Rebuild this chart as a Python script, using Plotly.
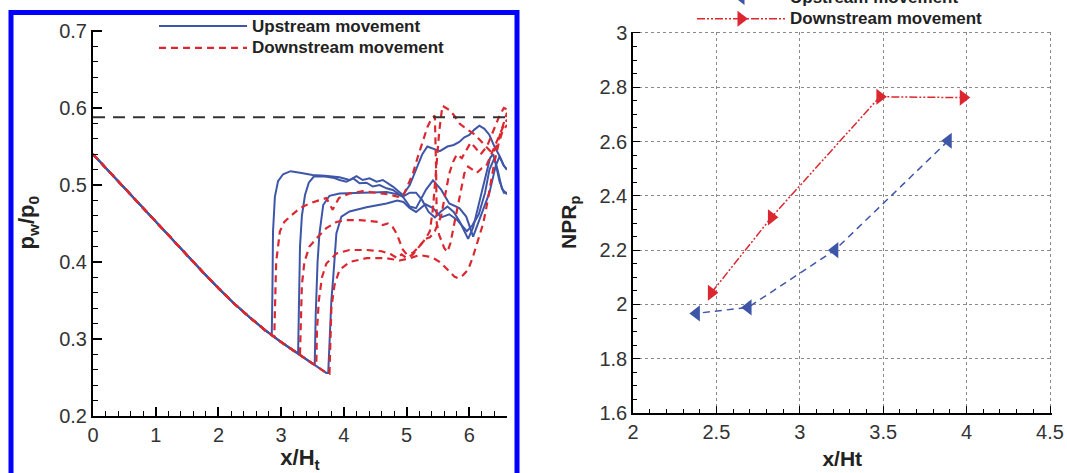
import plotly.graph_objects as go

W, H = 1067, 473

# ---------------- left panel: wall pressure distributions ----------------
BASE_X = [0.0, 0.25, 0.5, 0.75, 1.0, 1.25, 1.5, 1.75, 2.0, 2.25, 2.5, 2.75, 3.0, 3.25, 3.5, 3.72]
BASE_Y = [0.540, 0.518, 0.496, 0.474, 0.453, 0.431, 0.409, 0.387, 0.366, 0.346, 0.328, 0.311, 0.296, 0.282, 0.268, 0.256]

# upstream movement (solid blue), part after leaving the common expansion curve
B1_X = [2.85, 2.86, 2.87, 2.90, 2.95, 3.03, 3.15, 3.30, 3.50, 3.70, 3.85, 3.93, 4.09, 4.20, 4.30, 4.41, 4.52, 4.62, 4.78, 4.94,
        5.05, 5.15, 5.25, 5.33, 5.42, 5.53, 5.65, 5.75, 5.84, 5.92, 6.00, 6.08, 6.16, 6.24, 6.32, 6.40, 6.48, 6.55, 6.60]
B1_Y = [0.305, 0.360, 0.440, 0.485, 0.505, 0.514, 0.518, 0.516, 0.513, 0.512, 0.511, 0.510, 0.5065, 0.5116, 0.5065, 0.5086, 0.5043, 0.5065, 0.498, 0.487,
        0.500, 0.520, 0.540, 0.550, 0.547, 0.544, 0.550, 0.552, 0.556, 0.562, 0.565, 0.572, 0.577, 0.573, 0.565, 0.550, 0.538, 0.525, 0.520]
B2_X = [3.27, 3.28, 3.30, 3.33, 3.38, 3.44, 3.52, 3.70, 3.85, 3.93, 4.04, 4.15, 4.25, 4.36, 4.46, 4.57, 4.68, 4.78, 4.94,
        5.05, 5.15, 5.31, 5.42, 5.55, 5.68, 5.84, 5.95, 6.06, 6.16, 6.32, 6.42, 6.48, 6.55, 6.60]
B2_Y = [0.283, 0.350, 0.420, 0.460, 0.487, 0.503, 0.511, 0.511, 0.509, 0.5065, 0.5043, 0.5086, 0.5022, 0.503, 0.498, 0.500, 0.4957, 0.4935, 0.4848,
        0.472, 0.470, 0.494, 0.506, 0.494, 0.476, 0.470, 0.459, 0.433, 0.455, 0.490, 0.525, 0.537, 0.525, 0.520]
B3_X = [3.535, 3.55, 3.58, 3.61, 3.67, 3.77, 3.93, 4.25, 4.68, 4.85, 4.94,
        5.05, 5.15, 5.25, 5.35, 5.45, 5.55, 5.65, 5.75, 5.85, 5.93, 5.98, 6.06, 6.15, 6.25, 6.33, 6.38, 6.45, 6.52, 6.60]
B3_Y = [0.268, 0.330, 0.400, 0.437, 0.474, 0.486, 0.489, 0.490, 0.491, 0.488, 0.485,
        0.490, 0.490, 0.480, 0.465, 0.458, 0.466, 0.472, 0.465, 0.452, 0.438, 0.430, 0.445, 0.475, 0.510, 0.535, 0.540, 0.520, 0.495, 0.488]
B4_X = [3.75, 3.77, 3.80, 3.83, 3.88, 3.96, 4.09, 4.36, 4.68, 4.85, 4.95,
        5.05, 5.15, 5.30, 5.42, 5.55, 5.68, 5.80, 5.90, 5.96, 6.05, 6.15, 6.25, 6.32, 6.40, 6.48, 6.55, 6.60]
B4_Y = [0.256, 0.300, 0.350, 0.380, 0.437, 0.459, 0.4656, 0.471, 0.476, 0.480, 0.478,
        0.470, 0.465, 0.475, 0.470, 0.458, 0.462, 0.455, 0.445, 0.440, 0.448, 0.462, 0.490, 0.520, 0.535, 0.505, 0.490, 0.490]

# downstream movement (dashed red)
R1_X = [2.89, 2.90, 2.92, 2.95, 2.98, 3.05, 3.14, 3.30, 3.45, 3.60, 3.72, 3.82, 3.92, 4.09, 4.30, 4.50, 4.70, 4.85, 4.94,
        5.02, 5.10, 5.18, 5.26, 5.33, 5.40, 5.45, 5.47, 5.48, 5.52, 5.60, 5.65, 5.70, 5.76, 5.84, 5.92, 5.98,
        6.05, 6.12, 6.20, 6.27, 6.35, 6.45, 6.55, 6.60]
R1_Y = [0.303, 0.350, 0.400, 0.420, 0.440, 0.452, 0.459, 0.470, 0.476, 0.480, 0.483, 0.468, 0.483, 0.489, 0.492, 0.490, 0.488, 0.485, 0.485,
        0.500, 0.515, 0.537, 0.558, 0.575, 0.587, 0.590, 0.520, 0.450, 0.435, 0.418, 0.413, 0.425, 0.450, 0.483, 0.515, 0.524,
        0.520, 0.516, 0.522, 0.525, 0.540, 0.560, 0.578, 0.585]
R2_X = [3.30, 3.31, 3.33, 3.37, 3.45, 3.59, 3.72, 3.88, 4.04, 4.25, 4.45, 4.55, 4.62, 4.70, 4.78, 4.84, 4.94,
        5.00, 5.10, 5.20, 5.30, 5.37, 5.42, 5.47, 5.52, 5.57, 5.63, 5.69, 5.76, 5.84, 5.95, 6.06, 6.15, 6.22, 6.30, 6.37, 6.43, 6.48, 6.55, 6.60]
R2_Y = [0.281, 0.330, 0.370, 0.400, 0.420, 0.433, 0.444, 0.452, 0.4545, 0.4545, 0.453, 0.452, 0.448, 0.450, 0.445, 0.437, 0.416,
        0.410, 0.412, 0.420, 0.430, 0.440, 0.470, 0.520, 0.570, 0.603, 0.600, 0.597, 0.590, 0.580, 0.573, 0.567, 0.560, 0.554, 0.548, 0.541, 0.550, 0.563, 0.580, 0.594]
R3_X = [3.56, 3.57, 3.60, 3.65, 3.72, 3.88, 4.09, 4.36, 4.60, 4.75, 4.85, 4.92, 5.00, 5.10, 5.20, 5.30, 5.37,
        5.45, 5.55, 5.62, 5.68, 5.74, 5.80, 5.88, 5.95, 6.02, 6.10, 6.18, 6.28, 6.38, 6.48, 6.55, 6.60]
R3_Y = [0.266, 0.310, 0.350, 0.380, 0.398, 0.411, 0.4156, 0.4156, 0.414, 0.410, 0.405, 0.410, 0.405, 0.410, 0.420, 0.430, 0.432,
        0.440, 0.460, 0.490, 0.515, 0.530, 0.540, 0.535, 0.545, 0.555, 0.548, 0.540, 0.550, 0.570, 0.590, 0.600, 0.598]
R4_X = [3.77, 3.78, 3.80, 3.85, 3.93, 4.09, 4.36, 4.68, 4.89, 5.05, 5.21, 5.35, 5.45, 5.53, 5.61, 5.69, 5.76, 5.82, 5.90, 5.98,
        6.05, 6.11, 6.17, 6.22, 6.27, 6.33, 6.40, 6.47, 6.53, 6.60]
R4_Y = [0.255, 0.300, 0.340, 0.370, 0.390, 0.400, 0.405, 0.405, 0.402, 0.405, 0.409, 0.407, 0.404, 0.400, 0.394, 0.387, 0.381, 0.379, 0.383, 0.390,
        0.405, 0.420, 0.435, 0.450, 0.470, 0.500, 0.530, 0.555, 0.570, 0.578]

REF_X = [0.0, 6.6]
REF_Y = [0.588, 0.588]

# ---------------- right panel: NPR_p vs shock position ----------------
DOWN_X = [2.47, 2.83, 3.48, 3.98]
DOWN_Y = [2.043, 2.321, 2.765, 2.762]
UP_X = [3.89, 3.21, 2.69, 2.38]
UP_Y = [2.603, 2.200, 1.989, 1.967]

BLUE = "#3e56a8"
RED = "#db2830"
FONT = "Liberation Sans, Arial, sans-serif"


def full_curve(tx, ty):
    xs = [x for x in BASE_X if x < tx[0]] + list(tx)
    ys = [y for x, y in zip(BASE_X, BASE_Y) if x < tx[0]] + list(ty)
    return xs, ys


def label(s):
    return '<span style="font-size:17px">' + s + '</span>'


fig = go.Figure()

blue_tails = [(B1_X, B1_Y), (B2_X, B2_Y), (B3_X, B3_Y), (B4_X, B4_Y)]
red_tails = [(R1_X, R1_Y), (R2_X, R2_Y), (R3_X, R3_Y), (R4_X, R4_Y)]

for i, (tx, ty) in enumerate(blue_tails):
    xs, ys = full_curve(tx, ty)
    fig.add_trace(go.Scatter(x=xs, y=ys, mode="lines", line=dict(color=BLUE, width=2),
                             name=label("Upstream movement"), legendgroup="up", showlegend=(i == 0),
                             legend="legend", xaxis="x", yaxis="y"))
for i, (tx, ty) in enumerate(red_tails):
    xs, ys = full_curve(tx, ty)
    fig.add_trace(go.Scatter(x=xs, y=ys, mode="lines", line=dict(color=RED, width=2.2, dash="7px,5px"),
                             name=label("Downstream movement"), legendgroup="down", showlegend=(i == 0),
                             legend="legend", xaxis="x", yaxis="y"))

fig.add_trace(go.Scatter(x=REF_X, y=REF_Y, mode="lines", line=dict(color="#333333", width=2, dash="12px,8px"),
                         showlegend=False, xaxis="x", yaxis="y"))

fig.add_trace(go.Scatter(x=UP_X, y=UP_Y, mode="lines+markers", name=label("Upstream movement"),
                         line=dict(color=BLUE, width=1.5, dash="7px,5px"),
                         marker=dict(symbol="triangle-left", size=14, color=BLUE),
                         legend="legend2", xaxis="x2", yaxis="y2"))
fig.add_trace(go.Scatter(x=DOWN_X, y=DOWN_Y, mode="lines+markers", name=label("Downstream movement"),
                         line=dict(color=RED, width=1.5, dash="8px,2px,2px,2px,2px,2px"),
                         marker=dict(symbol="triangle-right", size=14, color=RED),
                         legend="legend2", xaxis="x2", yaxis="y2"))

tickfont = dict(family=FONT, size=20, color="#333333")
titlefont = dict(family=FONT, size=21, color="#222222")

common = dict(showline=True, linecolor="black", ticks="inside", tickcolor="black",
              tickfont=tickfont, zeroline=False, showgrid=False)
grid = dict(showgrid=True, gridcolor="#8a8a8a", griddash="dot", gridwidth=1)

fig.update_layout(
    width=W, height=H,
    margin=dict(l=0, r=0, t=0, b=0, autoexpand=False),
    paper_bgcolor="white", plot_bgcolor="white",
    font=dict(family=FONT, color="#222222"),
    xaxis=dict(domain=[93 / W, 507 / W], range=[0, 6.6], dtick=1, tick0=0, ticklen=9, tickwidth=1.5, linewidth=2,
               minor=dict(dtick=0.2, ticklen=5, tickwidth=1, tickcolor="black", ticks="inside"),
               title=dict(text="<b>x/H<sub>t</sub></b>", font=dict(family=FONT, size=22, color="#222222"), standoff=11),
               anchor="y", **common),
    yaxis=dict(domain=[1 - 416 / H, 1 - 29.5 / H], range=[0.2, 0.702], dtick=0.1, tick0=0.2, ticklen=9, tickwidth=1.5,
               linewidth=2,
               minor=dict(dtick=0.02, ticklen=5, tickwidth=1, tickcolor="black", ticks="inside"),
               title=dict(text="<b>p<sub>w</sub>/p<sub>0</sub></b>", font=dict(family=FONT, size=22, color="#222222"),
                          standoff=18),
               anchor="x", **common),
    xaxis2=dict(domain=[633 / W, 1051.5 / W], range=[2, 4.509], dtick=0.5, tick0=2, ticklen=7, tickwidth=1.2,
                linewidth=1.5,
                minor=dict(dtick=0.1, ticklen=4, tickwidth=1, tickcolor="black", ticks="inside"),
                title=dict(text="<b>x/Ht</b>", font=titlefont, standoff=10),
                anchor="y2", **{**common, **grid}),
    yaxis2=dict(domain=[1 - 413 / H, 1 - 31.5 / H], range=[1.6, 3.0055], dtick=0.2, tick0=1.6, ticklen=7, tickwidth=1.2,
                linewidth=1.5,
                minor=dict(dtick=0.05, ticklen=4, tickwidth=1, tickcolor="black", ticks="inside"),
                title=dict(text="<b>NPR<sub>p</sub></b>", font=titlefont, standoff=17),
                anchor="x2", **{**common, **grid}),
    legend=dict(x=154 / W, y=1 - 10 / H, xanchor="left", yanchor="top", bgcolor="rgba(0,0,0,0)",
                font=dict(family=FONT, size=14.5, color="#222222", weight="bold"), itemwidth=88,
                tracegroupgap=0),
    legend2=dict(x=692 / W, y=1 + 19 / H, xanchor="left", yanchor="top", bgcolor="rgba(0,0,0,0)",
                 font=dict(family=FONT, size=14.5, color="#222222", weight="bold"), itemwidth=88,
                 tracegroupgap=0),
    shapes=[dict(type="rect", xref="paper", yref="paper", x0=11 / W, x1=517 / W, y0=-0.1, y1=1 - 12.5 / H,
                 line=dict(color="#0000ff", width=5), fillcolor="rgba(0,0,0,0)", layer="above")],
)

fig.write_html("out.html")
